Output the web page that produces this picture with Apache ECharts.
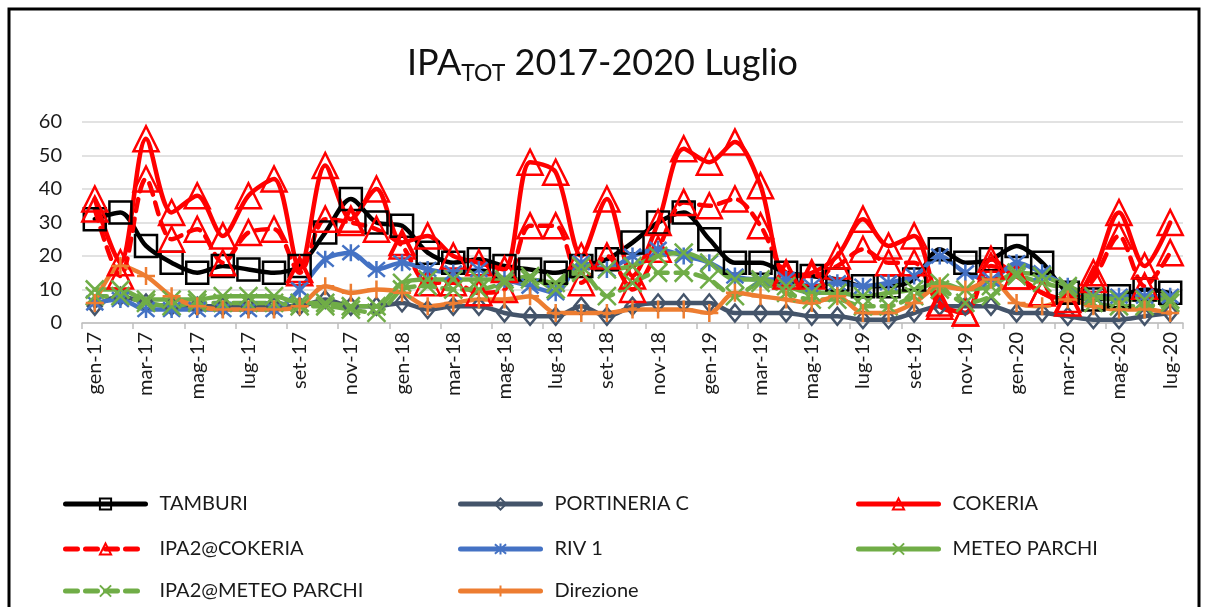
<!DOCTYPE html>
<html>
<head>
<meta charset="utf-8">
<script src="https://cdn.jsdelivr.net/npm/echarts@6/dist/echarts.min.js"></script>
<style>
  html, body { margin: 0; padding: 0; background: #fff; }
  #chart { width: 1205px; height: 607px; }
</style>
</head>
<body>
<div id="chart"></div>
<script>
// Months from January 2017 to July 2020
const months = [
  'gen-17','feb-17','mar-17','apr-17','mag-17','giu-17','lug-17','ago-17','set-17','ott-17','nov-17','dic-17',
  'gen-18','feb-18','mar-18','apr-18','mag-18','giu-18','lug-18','ago-18','set-18','ott-18','nov-18','dic-18',
  'gen-19','feb-19','mar-19','apr-19','mag-19','giu-19','lug-19','ago-19','set-19','ott-19','nov-19','dic-19',
  'gen-20','feb-20','mar-20','apr-20','mag-20','giu-20','lug-20'
];

// Monthly IPA totals per station
const tamburi      = [31,33,23,18,15,17,16,15,17,27,37,30,29,21,18,19,17,16,15,17,19,24,30,33,25,18,18,15,14,13,11,11,13,22,18,19,23,18,9,7,8,10,9];
const portineriaC  = [5,8,6,5,5,5,5,5,5,7,5,5,6,4,5,5,3,2,2,5,2,5,6,6,6,3,3,3,2,2,1,1,3,5,5,5,3,3,2,1,1,2,3];
const cokeria      = [37,18,55,33,38,26,38,43,16,47,31,40,24,26,20,18,16,48,45,20,37,14,30,52,48,54,41,14,15,20,31,23,26,6,3,19,14,9,7,15,33,17,30];
const ipa2Cokeria  = [34,14,43,25,28,18,27,28,15,31,30,28,23,12,12,9,10,29,29,12,20,10,22,36,35,37,29,15,14,17,22,18,18,5,3,17,14,9,6,13,26,11,21];
const riv1         = [6,7,4,4,4,4,4,4,10,19,21,16,18,16,15,16,13,11,9,18,16,20,22,20,18,14,13,13,11,12,11,12,14,20,15,13,18,15,11,8,8,8,8];
const meteoParchi  = [10,10,7,7,7,8,8,8,6,6,5,5,12,13,13,13,13,13,12,17,16,17,20,21,18,13,13,11,9,9,8,9,10,12,10,11,15,14,11,8,7,7,7];
const ipa2Meteo    = [8,8,6,5,6,6,6,6,5,5,4,3,10,11,10,10,12,14,10,15,8,12,15,15,13,8,12,9,7,7,5,5,8,10,6,8,14,12,10,6,5,5,6];
const direzione    = [6,17,14,8,5,4,4,4,5,11,9,10,9,5,6,7,7,8,3,3,3,4,4,4,3,9,8,7,6,8,3,3,6,11,10,13,6,5,7,5,4,4,3];

const yTicks = { min: 0, max: 60, step: 10 };

const FONT = 'Lato, "Open Sans", sans-serif';

// Hollow marker glyphs drawn as strokes
const ASTERISK = 'path://M5,0L5,10M0.7,0.7L9.3,9.3M9.3,0.7L0.7,9.3';
const CROSS    = 'path://M0,0L10,10M10,0L0,10';
const PLUS     = 'path://M5,0L5,10M0,5L10,5';

function lineSeries(name, data, color, symbol, size, dashed, bw) {
  return {
    name, type: 'line', data,
    smooth: 0.3,
    showAllSymbol: true,
    symbol, symbolSize: size,
    color: color,
    lineStyle: { color, width: 4.5, type: dashed ? [12, 8] : 'solid', cap: 'round' },
    itemStyle: { color: 'rgba(255,255,255,0)', borderColor: color, borderWidth: bw || 3 },
    emphasis: { disabled: true },
    animation: false
  };
}

const series = [
  lineSeries('TAMBURI', tamburi, '#000000', 'rect', 22, false, 2.5),
  lineSeries('PORTINERIA C', portineriaC, '#44546A', 'diamond', [14, 17], false, 2.5),
  lineSeries('COKERIA', cokeria, '#FF0000', 'triangle', 25, false, 2.5),
  lineSeries('IPA2@COKERIA', ipa2Cokeria, '#FF0000', 'triangle', 25, true, 2.5),
  lineSeries('RIV 1', riv1, '#4472C4', ASTERISK, 17, false, 2.5),
  lineSeries('METEO PARCHI', meteoParchi, '#70AD47', CROSS, 18, false, 2.5),
  lineSeries('IPA2@METEO PARCHI', ipa2Meteo, '#70AD47', CROSS, 18, true, 2.5),
  lineSeries('Direzione', direzione, '#ED7D31', PLUS, 18, false, 2.5)
];

// Legend laid out as a 3-column grid
const legendCols = [63, 458, 856];
const legendRows = [494, 539, 581];
const legends = series.map((s, i) => ({
  data: [s.name],
  left: legendCols[i % 3],
  top: legendRows[Math.floor(i / 3)],
  orient: 'horizontal',
  padding: 0,
  itemWidth: 80,
  itemHeight: 14,
  selectedMode: false,
  lineStyle: { width: 5 },
  textStyle: { fontFamily: FONT, fontSize: 20, color: '#1a1a1a', padding: [0, 0, 0, 9] }
}));

const chart = echarts.init(document.getElementById('chart'), null, { renderer: 'canvas' });
chart.setOption({
  backgroundColor: '#ffffff',
  animation: false,
  title: {
    text: '{a|IPA}{b|TOT}{a| 2017-2020 Luglio}',
    left: 'center',
    top: 37,
    textStyle: {
      fontWeight: 'normal',
      rich: {
        a: { fontFamily: FONT, fontSize: 36, fontWeight: 'normal', color: '#111', lineHeight: 43 },
        b: { fontFamily: FONT, fontSize: 23, fontWeight: 'normal', color: '#111', lineHeight: 30, verticalAlign: 'bottom' }
      }
    }
  },
  graphic: [{
    type: 'rect',
    shape: { x: 9, y: 9, width: 1190, height: 640 },
    style: { fill: 'none', stroke: '#000', lineWidth: 3 },
    silent: true
  }],
  legend: legends,
  grid: { left: 82, right: 22, top: 122, bottom: 284, containLabel: false },
  xAxis: {
    type: 'category',
    data: months,
    boundaryGap: true,
    axisLine: { lineStyle: { color: '#bfbfbf', width: 1.5 } },
    axisTick: { show: true, interval: 1, length: 6, lineStyle: { color: '#bfbfbf', width: 1.5 } },
    axisLabel: { interval: 1, rotate: 90, margin: 9, fontFamily: FONT, fontSize: 20, color: '#1a1a1a' },
    splitLine: { show: false }
  },
  yAxis: {
    type: 'value',
    min: yTicks.min, max: yTicks.max, interval: yTicks.step,
    axisLine: { show: false },
    axisTick: { show: false },
    axisLabel: { margin: 20, fontFamily: FONT, fontSize: 20, color: '#1a1a1a' },
    splitLine: { lineStyle: { color: '#d9d9d9', width: 1.5 } }
  },
  series
});
</script>
</body>
</html>
